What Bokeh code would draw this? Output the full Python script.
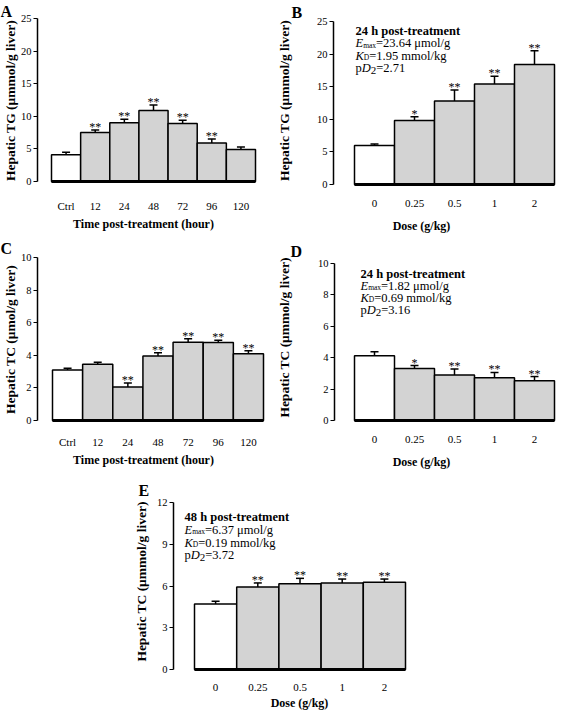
import math
from bokeh.plotting import figure
from bokeh.models import Range1d, FixedTicker, Label, Whisker, ColumnDataSource, TeeHead, Spacer
from bokeh.layouts import row, column
from bokeh.embed import file_html
from bokeh.resources import INLINE
from bokeh.core.properties import value

FONT = "Liberation Serif"

# ---------------- data ----------------
time_labels = ["Ctrl", "12", "24", "48", "72", "96", "120"]
dose_labels = ["0", "0.25", "0.5", "1", "2"]

tg_time_mean = [4.1, 7.5, 9.0, 10.9, 8.9, 5.9, 4.9]
tg_time_err = [0.4, 0.4, 0.55, 0.85, 0.5, 0.6, 0.4]
tg_time_sig = ["", "**", "**", "**", "**", "**", ""]

tg_dose_mean = [6.0, 9.8, 12.8, 15.4, 18.4]
tg_dose_err = [0.2, 0.6, 1.7, 1.2, 2.1]
tg_dose_sig = ["", "*", "**", "**", "**"]

tc_time_mean = [3.1, 3.45, 2.05, 3.95, 4.8, 4.78, 4.1]
tc_time_err = [0.1, 0.12, 0.25, 0.2, 0.22, 0.14, 0.18]
tc_time_sig = ["", "", "**", "**", "**", "**", "**"]

tc_dose24_mean = [4.13, 3.32, 2.9, 2.72, 2.53]
tc_dose24_err = [0.25, 0.18, 0.38, 0.34, 0.27]
tc_dose24_sig = ["", "*", "**", "**", "**"]

tc_dose48_mean = [4.71, 5.93, 6.17, 6.22, 6.27]
tc_dose48_err = [0.19, 0.29, 0.38, 0.28, 0.23]
tc_dose48_sig = ["", "**", "**", "**", "**"]

ticks_tg = [0, 5, 10, 15, 20, 25]
ticks_tc10 = [0, 2, 4, 6, 8, 10]
ticks_tc12 = [0, 3, 6, 9, 12]

# approximate Times metrics (em units) for laying out text fragments
REG = {c: 0.5 for c in "0123456789"}
REG.update({".": 0.25, "=": 0.564, " ": 0.25, "μ": 0.5, "m": 0.778, "o": 0.5,
            "l": 0.278, "/": 0.278, "g": 0.5, "k": 0.5, "a": 0.444, "x": 0.5,
            "D": 0.722, "p": 0.5})
ITA = {"E": 0.611, "K": 0.667, "D": 0.722}


def frag_width(text, size, style):
    tab = ITA if style == "italic" else REG
    return sum(tab.get(c, 0.5) for c in text) * size


def make_panel(letter, labels, mean, err, sig, yticks, ytitle, xtitle, g, annot=None):
    W, H = g["W"], g["H"]
    fl, yt, y0 = g["fl"], g["yt"], g["y0"]
    bl, br = g["bl"], g["br"]
    n = len(labels)
    bw = (br - bl) / n
    xs = -0.5 - bl / bw
    xe = xs + W / bw
    ytop = yticks[-1]
    ppu = (y0 - yt) / ytop
    ys = -(H - y0) / ppu
    ye = y0 / ppu
    p = figure(width=W, height=H, x_range=Range1d(xs, xe), y_range=Range1d(ys, ye),
               min_border_left=0, min_border_right=0, min_border_top=0,
               min_border_bottom=0, min_border=0, output_backend="svg",
               toolbar_location=None, tools="", title=None)
    p.background_fill_color = "white"
    p.border_fill_color = "white"
    p.outline_line_color = None
    p.xgrid.visible = False
    p.ygrid.visible = False

    src = ColumnDataSource(dict(
        x=list(range(n)), top=mean,
        upper=[m + e for m, e in zip(mean, err)],
        color=["white"] + ["#d3d3d3"] * (n - 1),
        sig=sig))
    p.vbar(x="x", top="top", bottom=0, width=1.0, source=src, fill_color="color",
           line_color="black", line_width=1.5)
    p.add_layout(Whisker(source=src, base="x", lower="top", upper="upper",
                         dimension="height", line_color="black", line_width=1.5,
                         upper_head=TeeHead(size=8, line_width=1.5, line_color="black"),
                         lower_head=None))
    p.segment(x0=[-0.5], y0=[0], x1=[n - 0.5], y1=[0], line_color="black", line_width=3)
    p.text(x="x", y="upper", text="sig", source=src, text_align="center",
           text_baseline="alphabetic", text_font=value(FONT), text_font_size="12px",
           text_font_style="normal", y_offset=-3, text_color="black")

    xa = p.xaxis[0]
    xa.fixed_location = 0
    xa.ticker = FixedTicker(ticks=list(range(n)))
    xa.major_label_overrides = {i: lab for i, lab in enumerate(labels)}
    xa.axis_line_color = None
    xa.major_tick_line_color = None
    xa.minor_tick_line_color = None
    xa.major_label_text_font = FONT
    xa.major_label_text_font_size = "11px"
    xa.major_label_text_color = "black"
    xa.major_label_standoff = g["xls"]

    ya = p.yaxis[0]
    ya.fixed_location = xs + fl / bw
    ya.ticker = FixedTicker(ticks=yticks)
    ya.bounds = (0, ytop)
    ya.axis_line_width = 1.5
    ya.axis_line_color = "black"
    ya.major_tick_out = 4
    ya.major_tick_in = 0
    ya.major_tick_line_width = 1.2
    ya.minor_tick_line_color = None
    ya.major_label_text_font = FONT
    ya.major_label_text_font_size = "10.5px"
    ya.major_label_text_color = "black"
    ya.major_label_standoff = 2

    def put(fx, fy, text, size, style="normal", align="left", baseline="alphabetic", angle=0.0):
        p.add_layout(Label(x=fx, y=H - fy, x_units="screen", y_units="screen",
                           text=text, text_font=FONT, text_font_size=f"{size}px",
                           text_font_style=style, text_align=align,
                           text_baseline=baseline, angle=angle, text_color="black"))

    put(g["letter"][0], g["letter"][1], letter, 16, "bold", baseline="top")
    put(g["yt_c"][0], g["yt_c"][1], ytitle, 13.5, "bold", align="center",
        baseline="middle", angle=math.pi / 2)
    put(g["xt_c"][0], g["xt_c"][1], xtitle, 12, "bold", align="center", baseline="middle")

    if annot:
        ax = g["ax"]
        for line, base in zip(annot, g["abase"]):
            cx = ax
            for text, size, style, dy in line:
                put(cx, base + dy, text, size, style)
                cx += frag_width(text, size, style)
    return p


def annot_lines(hours, emax, kd, pd2):
    s = 12.5
    return [
        [(f"{hours} h post-treatment", s, "bold", 0)],
        [("E", s, "italic", 0), ("max", 7.5, "normal", 2), (f"={emax} μmol/g", s, "normal", 0)],
        [("K", s, "italic", 0), ("D", 7.5, "normal", 2), (f"={kd} mmol/kg", s, "normal", 0)],
        [("p", s, "normal", 0), ("D", s, "italic", 0), ("2", 11, "normal", 3), (f"={pd2}", s, "normal", 0)],
    ]


gA = dict(W=272, H=236, fl=37, yt=18, y0=181, bl=51, br=255, xls=12,
          letter=(0, 2), yt_c=(10, 100), xt_c=(143, 223))
gB = dict(W=285, H=236, fl=61, yt=21, y0=184, bl=82, br=282, xls=9,
          letter=(19, 3), yt_c=(12, 100), xt_c=(149, 225), ax=83, abase=[30, 42.5, 55, 67])
gC = dict(W=272, H=234, fl=37, yt=21, y0=184, bl=52, br=263, xls=9,
          letter=(0, 3), yt_c=(10, 103), xt_c=(143, 223))
gD = dict(W=285, H=234, fl=62, yt=27, y0=184, bl=82, br=282, xls=9,
          letter=(18, 6), yt_c=(12, 101), xt_c=(149, 225), ax=88, abase=[37, 49, 61, 73])
gE = dict(W=290, H=242, fl=47, yt=32, y0=199, bl=68, br=279, xls=8,
          letter=(12, 11), yt_c=(15, 111), xt_c=(173, 232), ax=58, abase=[46, 59, 72, 84])

pA = make_panel("A", time_labels, tg_time_mean, tg_time_err, tg_time_sig, ticks_tg,
                "Hepatic TG (μmmol/g liver)", "Time post-treatment (hour)", gA)
pB = make_panel("B", dose_labels, tg_dose_mean, tg_dose_err, tg_dose_sig, ticks_tg,
                "Hepatic TG (μmmol/g liver)", "Dose (g/kg)", gB,
                annot_lines(24, "23.64", "1.95", "2.71"))
pC = make_panel("C", time_labels, tc_time_mean, tc_time_err, tc_time_sig, ticks_tc10,
                "Hepatic TC (μmol/g liver)", "Time post-treatment (hour)", gC)
pD = make_panel("D", dose_labels, tc_dose24_mean, tc_dose24_err, tc_dose24_sig, ticks_tc10,
                "Hepatic TC (μmmol/g liver)", "Dose (g/kg)", gD,
                annot_lines(24, "1.82", "0.69", "3.16"))
pE = make_panel("E", dose_labels, tc_dose48_mean, tc_dose48_err, tc_dose48_sig, ticks_tc12,
                "Hepatic TC (μmmol/g liver)", "Dose (g/kg)", gE,
                annot_lines(48, "6.37", "0.19", "3.72"))

layout = column(row(pA, pB), row(pC, pD), row(Spacer(width=126, height=242), pE))

with open("out.html", "w") as f:
    f.write(file_html(layout, INLINE))
